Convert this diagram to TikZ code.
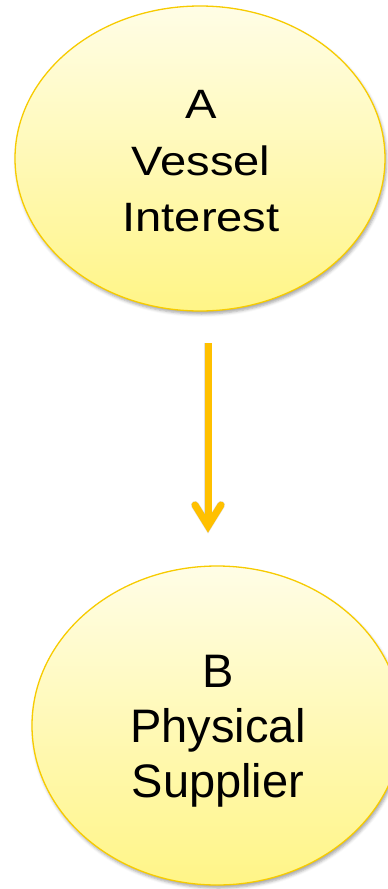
\documentclass[tikz,border=0pt]{standalone}
\usepackage{fontspec}
\setmainfont{Liberation Sans}
\newfontfamily\wideA[FakeStretch=1.15]{Liberation Sans}
\usetikzlibrary{shapes.geometric,shadows.blur}
\definecolor{elltop}{HTML}{FFFDE6}
\definecolor{ellbot}{HTML}{FFF587}
\definecolor{ellborder}{HTML}{F7CB00}
\definecolor{arrowc}{HTML}{FFC000}
\begin{document}
\begin{tikzpicture}[x=1pt,y=1pt,
  ell/.style={ellipse, draw=ellborder, line width=1.3pt, top color=elltop, bottom color=ellbot,
    inner sep=0pt, outer sep=0pt,
    blur shadow={shadow xshift=1.5pt, shadow yshift=-3pt, shadow blur radius=3pt, shadow opacity=35}},
  lbl/.style={align=center, inner sep=0pt, outer sep=0pt, text=black},
  arrline/.style={draw=arrowc, line width=7pt},
  arrshadow/.style={draw=black, opacity=0.12, line width=8pt}
]
\useasboundingbox (0,0) rectangle (388,-889);
% nodes
\node[ell, minimum width=370, minimum height=305] (A) at (200,-158.5) {};
\node[ell, minimum width=370, minimum height=319] (B) at (217,-725.5) {};
\node[lbl, font=\wideA\fontsize{41}{56.5}\selectfont] (Atext) at (201,-161.5) {A\\Vessel\\Interest};
\node[lbl, font=\fontsize{47}{55}\selectfont] (Btext) at (218,-731.5) {B\\Physical\\Supplier};
% arrow
\coordinate (s) at (208,-343);
\coordinate (e) at (208,-526);
\coordinate (wl) at (195,-505);
\coordinate (wr) at (221,-505);
\begin{scope}[xshift=2pt, yshift=-2pt]
  \draw[arrshadow] (s) -- (e);
  \draw[arrshadow, line cap=round] (wl) -- (e) -- (wr);
\end{scope}
\draw[arrline] (s) -- (e);
\draw[arrline, line cap=round, line join=miter] (wl) -- (e) -- (wr);
\end{tikzpicture}
\end{document}
